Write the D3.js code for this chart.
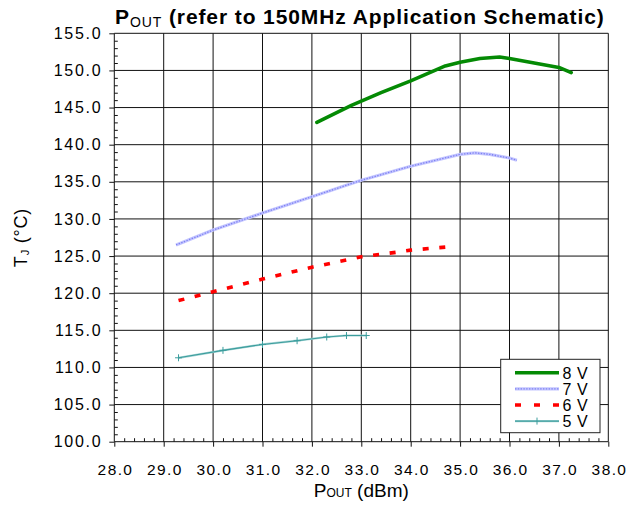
<!DOCTYPE html>
<html>
<head>
<meta charset="utf-8">
<script src="https://cdn.jsdelivr.net/npm/d3@7"></script>
<style>
  html, body { margin: 0; padding: 0; background: #fff; }
  svg { display: block; font-family: "Liberation Sans", Arial, sans-serif; }
</style>
</head>
<body>
<svg id="chart" width="637" height="512"></svg>
<script>
// Junction temperature vs output power, one series per supply voltage
const xTicks = [28, 29, 30, 31, 32, 33, 34, 35, 36, 37, 38];
const yTicks = [100, 105, 110, 115, 120, 125, 130, 135, 140, 145, 150, 155];

const seriesNames = ["8 V", "7 V", "6 V", "5 V"];

const pout8V = [32.1, 32.8, 33.4, 34.0, 34.7, 35.0, 35.4, 35.8, 36.0, 36.5, 37.0, 37.25];
const tj8V   = [143.0, 145.3, 147.0, 148.6, 150.6, 151.1, 151.6, 151.8, 151.6, 151.0, 150.4, 149.7];

const pout7V = [29.25, 30.0, 31.0, 32.0, 33.0, 34.0, 35.0, 35.3, 35.6, 36.0, 36.15];
const tj7V   = [126.5, 128.5, 130.8, 133.0, 135.2, 137.1, 138.7, 138.9, 138.7, 138.2, 137.9];

const pout6V = [29.3, 30.0, 31.0, 32.0, 33.0, 33.7, 34.0, 34.7];
const tj6V   = [119.0, 120.2, 121.9, 123.5, 124.9, 125.5, 125.8, 126.2];

const pout5V = [29.3, 30.2, 31.0, 31.7, 32.3, 32.7, 33.1];
const tj5V   = [111.3, 112.3, 113.1, 113.6, 114.1, 114.3, 114.3];

const svg = d3.select("#chart");

const plotL = 114.3, plotR = 608.3, plotT = 33.3, plotB = 441.7;
const x = d3.scaleLinear().domain([28, 38]).range([plotL, plotR]);
const y = d3.scaleLinear().domain([100, 155]).range([plotB, plotT]);

// grid
const grid = svg.append("g").attr("stroke", "#111").attr("stroke-width", 1);
grid.selectAll("line.v").data(xTicks).join("line")
  .attr("class", "v")
  .attr("x1", d => x(d)).attr("x2", d => x(d))
  .attr("y1", plotT).attr("y2", plotB);
grid.selectAll("line.h").data(yTicks).join("line")
  .attr("class", "h")
  .attr("x1", plotL).attr("x2", plotR)
  .attr("y1", d => y(d)).attr("y2", d => y(d));

// minor ticks (inside the plot)
const xMinor = d3.range(28, 38.001, 0.2).filter(v => Math.abs(v - Math.round(v)) > 1e-6);
const yMinor = d3.range(100, 155.001, 1).filter(v => v % 5 !== 0);

svg.append("g").attr("transform", `translate(0,${plotB})`)
  .call(d3.axisBottom(x).tickValues(xMinor).tickSize(-3.5).tickFormat(""))
  .call(g => g.select(".domain").remove())
  .call(g => g.selectAll("line").attr("stroke", "#111"));
svg.append("g").attr("transform", `translate(${plotL},0)`)
  .call(d3.axisLeft(y).tickValues(yMinor).tickSize(-3.5).tickFormat(""))
  .call(g => g.select(".domain").remove())
  .call(g => g.selectAll("line").attr("stroke", "#111"));

// major axes with labels
const fmt = d3.format(".1f");
svg.append("g").attr("transform", `translate(0,${plotB})`)
  .call(d3.axisBottom(x).tickValues(xTicks).tickSize(5).tickPadding(17).tickFormat(fmt))
  .call(g => g.select(".domain").remove())
  .call(g => g.selectAll("line").attr("stroke", "#111"))
  .call(g => g.selectAll("text").attr("font-size", 15.5).attr("fill", "#000")
    .attr("letter-spacing", 1.4).attr("dx", 0.7)
    .attr("font-family", "Liberation Sans, Arial, sans-serif"));
svg.append("g").attr("transform", `translate(${plotL},0)`)
  .call(d3.axisLeft(y).tickValues(yTicks).tickSize(5).tickPadding(7).tickFormat(fmt))
  .call(g => g.select(".domain").remove())
  .call(g => g.selectAll("line").attr("stroke", "#111"))
  .call(g => g.selectAll("text").attr("font-size", 16).attr("fill", "#000")
    .attr("letter-spacing", 1.7)
    .attr("font-family", "Liberation Sans, Arial, sans-serif"));

// series
const line = d3.line().x(d => x(d[0])).y(d => y(d[1]));
const zip = (a, b) => a.map((v, i) => [v, b[i]]);

const d8 = zip(pout8V, tj8V), d7 = zip(pout7V, tj7V), d6 = zip(pout6V, tj6V), d5 = zip(pout5V, tj5V);

const plot = svg.append("g").attr("fill", "none");

plot.append("path").attr("d", line(d7))
  .attr("stroke", "#c4c6ff").attr("stroke-width", 3.2);
plot.append("path").attr("d", line(d7))
  .attr("stroke", "#7f82f2").attr("stroke-width", 1.3).attr("stroke-dasharray", "1.4,1.4");

// dashed 6 V line: stretch the gap so the path starts and ends on a full dash
const p6 = plot.append("path").attr("d", line(d6))
  .attr("stroke", "#ff0000").attr("stroke-width", 3.6);
{
  const dash = 6, len = p6.node().getTotalLength();
  const n = Math.max(1, Math.round((len - dash) / 17));
  const gap = (len - dash) / n - dash;
  p6.attr("stroke-dasharray", `${dash},${gap}`);
}

plot.append("path").attr("d", line(d5))
  .attr("stroke", "#a8d6d6").attr("stroke-width", 2.2);
plot.append("path").attr("d", line(d5))
  .attr("stroke", "#3c9d9d").attr("stroke-width", 1.1);
plot.selectAll("path.m5").data(d5).join("path")
  .attr("class", "m5")
  .attr("d", d => `M${x(d[0]) - 3.5},${y(d[1])}h7M${x(d[0])},${y(d[1]) - 3.5}v7`)
  .attr("stroke", "#3c9d9d").attr("stroke-width", 1);

plot.append("path").attr("d", line(d8))
  .attr("stroke", "#048a04").attr("stroke-width", 3.5)
  .attr("stroke-linejoin", "round").attr("stroke-linecap", "round");

// legend
const lg = svg.append("g");
lg.append("rect").attr("x", 500.7).attr("y", 359.3).attr("width", 99.3).attr("height", 73.4)
  .attr("fill", "#fff").attr("stroke", "#222").attr("stroke-width", 1);
const rowY = i => 372.8 + i * 16.1;
const lx1 = 515, lx2 = 559;
lg.append("line").attr("x1", lx1).attr("x2", lx2).attr("y1", rowY(0)).attr("y2", rowY(0))
  .attr("stroke", "#048a04").attr("stroke-width", 3.5);
lg.append("line").attr("x1", lx1).attr("x2", lx2).attr("y1", rowY(1)).attr("y2", rowY(1))
  .attr("stroke", "#c4c6ff").attr("stroke-width", 3.2);
lg.append("line").attr("x1", lx1).attr("x2", lx2).attr("y1", rowY(1)).attr("y2", rowY(1))
  .attr("stroke", "#7f82f2").attr("stroke-width", 1.3).attr("stroke-dasharray", "1.4,1.4");
lg.append("line").attr("x1", lx1).attr("x2", lx2).attr("y1", rowY(2)).attr("y2", rowY(2))
  .attr("stroke", "#ff0000").attr("stroke-width", 3.6).attr("stroke-dasharray", "6,13");
lg.append("line").attr("x1", lx1).attr("x2", lx2).attr("y1", rowY(3)).attr("y2", rowY(3))
  .attr("stroke", "#a8d6d6").attr("stroke-width", 2.2);
lg.append("line").attr("x1", lx1).attr("x2", lx2).attr("y1", rowY(3)).attr("y2", rowY(3))
  .attr("stroke", "#3c9d9d").attr("stroke-width", 1.1);
lg.append("path").attr("d", `M${(lx1 + lx2) / 2},${rowY(3) - 3.5}v7`)
  .attr("stroke", "#3c9d9d").attr("stroke-width", 1);
lg.selectAll("text").data(seriesNames).join("text")
  .attr("x", 562.5).attr("y", (d, i) => rowY(i)).attr("dy", "0.36em")
  .attr("font-size", 16).attr("letter-spacing", 0.6).attr("fill", "#000").text(d => d);

// title
const title = svg.append("text").attr("x", 115).attr("y", 24)
  .attr("font-size", 21).attr("font-weight", "bold").attr("letter-spacing", 0.9).attr("fill", "#000");
title.append("tspan").text("P");
title.append("tspan").attr("font-size", 14).attr("font-weight", "normal").attr("dy", 2.5).text("OUT");
title.append("tspan").attr("dy", -2.5).text(" (refer to 150MHz Application Schematic)");

// axis titles
const xt = svg.append("text").attr("x", (plotL + plotR) / 2).attr("y", 497)
  .attr("text-anchor", "middle").attr("font-size", 19).attr("fill", "#000");
xt.append("tspan").text("P");
xt.append("tspan").attr("font-size", 12).text("OUT");
xt.append("tspan").text(" (dBm)");

const yt = svg.append("text")
  .attr("transform", `translate(26.5,${(plotT + plotB) / 2}) rotate(-90)`)
  .attr("text-anchor", "middle").attr("font-size", 18).attr("letter-spacing", 0.8).attr("fill", "#000");
yt.append("tspan").text("T");
yt.append("tspan").attr("font-size", 11).attr("dy", 2).text("J");
yt.append("tspan").attr("dy", -2).text(" (°C)");
</script>
</body>
</html>
